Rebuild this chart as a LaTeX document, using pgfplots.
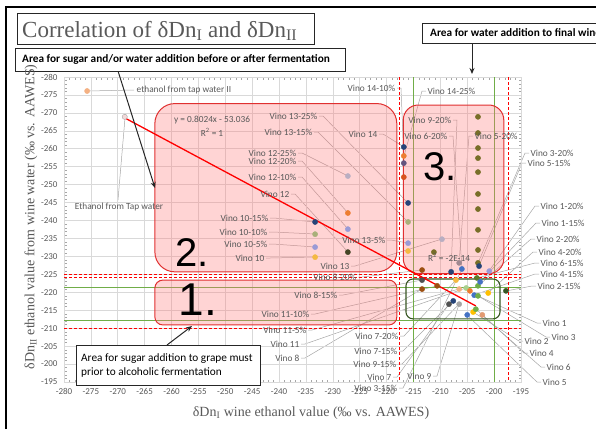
\documentclass[border=0pt]{standalone}
\usepackage{pgfplots}
\pgfplotsset{compat=1.18}
\usepackage{fontspec}
\setmainfont{Carlito}
\newfontfamily\tnr{Liberation Serif}
\newfontfamily\ari{Liberation Sans}
\usetikzlibrary{arrows.meta,backgrounds}

\definecolor{gridc}{HTML}{D9D9D9}
\definecolor{tickc}{HTML}{595959}
\definecolor{labc}{HTML}{595959}
\definecolor{ldrc}{HTML}{A6A6A6}
\definecolor{regfill}{HTML}{FF7878}
\definecolor{regred}{HTML}{E03030}
\definecolor{greenl}{HTML}{70AD47}
\definecolor{boxgreen}{HTML}{385723}
\definecolor{cNavy}{HTML}{264478}
\definecolor{cOrange}{HTML}{ED7D31}
\definecolor{cPurple}{HTML}{64557E}
\definecolor{cRedor}{HTML}{D8531E}
\definecolor{cKhaki}{HTML}{A9B07A}
\definecolor{cLav}{HTML}{9A9AD6}
\definecolor{cGold}{HTML}{F4B942}
\definecolor{cLavg}{HTML}{B9AEC2}
\definecolor{cOlive}{HTML}{786E28}
\definecolor{cDkol}{HTML}{454526}
\definecolor{cBrown}{HTML}{9C4F12}
\definecolor{cMauve}{HTML}{A08890}
\definecolor{cDkgray}{HTML}{505050}
\definecolor{cBlue}{HTML}{4472C4}
\definecolor{cGreen}{HTML}{70AD47}
\definecolor{cLtgreen}{HTML}{A9D18E}
\definecolor{cPeach}{HTML}{F4B183}
\definecolor{cYellow}{HTML}{FFC000}
\definecolor{cDkgreen}{HTML}{375623}
\definecolor{cLtgray}{HTML}{A5A5A5}
\definecolor{cSalmon}{HTML}{E29A72}
\definecolor{cOlgreen}{HTML}{5B7B2A}
\definecolor{cPale}{HTML}{F2D9D9}

\tikzset{
  lbl/.style={font=\fontsize{9.3}{10}\selectfont, text=labc, inner sep=0.5pt},
  ldr/.style={draw=ldrc, line width=0.5pt},
  abox/.style={draw=black!85, line width=1pt, fill=white},
  aarrow/.style={draw=black!85, line width=1pt, -{Stealth[length=6pt,width=5pt]}}
}
\newcommand\LE[5]{\begin{pgfonlayer}{background}\draw[ldr] (#1+1,-#2) -- (#1+5,-#2) -- (#4,-#5);\end{pgfonlayer}\node[lbl,anchor=east] at (#1,-#2) {#3};}
\newcommand\LW[5]{\begin{pgfonlayer}{background}\draw[ldr] (#1-1,-#2) -- (#1-5,-#2) -- (#4,-#5);\end{pgfonlayer}\node[lbl,anchor=west] at (#1,-#2) {#3};}

\begin{document}
\begin{tikzpicture}[x=1pt,y=1pt]
\useasboundingbox (0,0) rectangle (596,-429);
\begin{axis}[
  at={(292.5pt,-229.5pt)}, anchor=center,
  scale only axis, width=457pt, height=305pt,
  xmin=-280, xmax=-195, ymin=-280, ymax=-195, y dir=reverse,
  xtick={-280,-275,...,-195}, ytick={-280,-275,...,-195},
  minor x tick num=4, minor y tick num=4,
  grid=major, major grid style={draw=gridc, line width=0.6pt},
  axis line style={draw=gridc, line width=0.6pt},
  major tick length=0pt, minor tick length=2.5pt,
  minor tick style={draw=ldrc, line width=0.4pt},
  tick align=inside,
  /pgf/number format/assume math mode=true,
  tick label style={font=\fontsize{9}{10}\selectfont, text=tickc},
  xticklabel style={yshift=-3pt},
  yticklabel style={xshift=-3pt},
]
% green reference lines
\draw[greenl, line width=0.8pt] (-280,-221.5) -- (-195,-221.5);
\draw[greenl, line width=0.8pt] (-280,-212.3) -- (-195,-212.3);
\draw[greenl, line width=0.8pt] (-215.1,-280) -- (-215.1,-195);
\draw[greenl, line width=0.8pt] (-200.0,-280) -- (-200.0,-195);
% regions
\fill[regfill, fill opacity=0.32, rounded corners=20pt] (-263.1,-272.6) rectangle (-218.1,-225.7);
\draw[regred, line width=1pt, rounded corners=20pt] (-263.1,-272.6) rectangle (-218.1,-225.7);
\fill[regfill, fill opacity=0.32, rounded corners=15pt] (-216.9,-272.2) rectangle (-198.2,-225.2);
\draw[regred, line width=1pt, rounded corners=15pt] (-216.9,-272.2) rectangle (-198.2,-225.2);
\fill[regfill, fill opacity=0.32, rounded corners=8pt] (-263.1,-223.4) rectangle (-218.1,-210.9);
\draw[regred, line width=1pt, rounded corners=8pt] (-263.1,-223.4) rectangle (-218.1,-210.9);
\draw[boxgreen, line width=1.1pt, rounded corners=7pt] (-216.4,-223.7) rectangle (-198.9,-212.6);
% dashed limits
\draw[red, line width=0.9pt, dash pattern=on 3pt off 2pt] (-217.7,-280) -- (-217.7,-195);
\draw[red, line width=0.9pt, dash pattern=on 3pt off 2pt] (-197.4,-280) -- (-197.4,-195);
\draw[red, line width=0.8pt, dash pattern=on 3pt off 2pt] (-280,-224.9) -- (-195,-224.9);
\draw[red, line width=0.8pt, dash pattern=on 3pt off 2pt] (-280,-224.1) -- (-195,-224.1);
\draw[red, line width=0.9pt, dash pattern=on 3pt off 2pt] (-280,-210.0) -- (-195,-210.0);
% regression line
\addplot[red, line width=1.3pt, no marks] coordinates {(-268.7,-268.6) (-203.4,-216.2)};
% points
\addplot[scatter, only marks, mark=*, mark size=2.6pt,
  scatter src=explicit symbolic,
  scatter/classes={
    nv={mark=*,cNavy}, or={mark=*,cOrange}, pu={mark=*,cPurple}, ro={mark=*,cRedor},
    kh={mark=*,cKhaki}, lv={mark=*,cLav}, go={mark=*,cGold}, lg={mark=*,cLavg},
    ol={mark=*,cOlive}, dk={mark=*,cDkol}, br={mark=*,cBrown}, ma={mark=*,cMauve},
    dg={mark=*,cDkgray}, bl={mark=*,cBlue}, gr={mark=*,cGreen}, lgr={mark=*,cLtgreen},
    pe={mark=*,cPeach}, ye={mark=*,cYellow}, dgr={mark=*,cDkgreen}, lgy={mark=*,cLtgray},
    sa={mark=*,cSalmon}, og={mark=*,cOlgreen}, pa={mark=*,fill=cPale,draw=ldrc}
  }] table[meta=c] {
x y c
-275.7 -276.1 pe
-268.7 -268.9 pa
-227.2 -252.4 lg
-227.2 -242.1 or
-227.2 -237.6 lv
-227.2 -231.2 dk
-233.3 -239.6 nv
-233.3 -236.2 kh
-233.3 -232.6 lv
-233.3 -229.8 go
-216.8 -260.5 nv
-216.8 -258.0 or
-216.8 -256.0 pu
-216.8 -252.1 ro
-216.0 -244.9 nv
-216.0 -239.6 kh
-216.0 -233.7 lv
-216.0 -231.5 go
-209.7 -234.8 lg
-211.2 -231.2 ol
-203.0 -268.9 ol
-203.0 -264.4 ol
-203.0 -260.2 ol
-203.0 -257.4 ol
-203.0 -253.5 ol
-203.0 -247.4 ol
-203.0 -243.2 ol
-203.0 -237.4 ol
-203.0 -231.8 ol
-203.0 -228.2 ol
-213.4 -226.2 br
-208.0 -225.7 nv
-206.0 -226.5 bl
-206.5 -228.2 ma
-202.8 -227.3 nv
-200.9 -225.9 lv
-213.4 -223.4 dg
-207.1 -223.4 go
-203.2 -224.0 og
-203.0 -221.8 gr
-202.6 -222.9 bl
-213.4 -220.9 br
-210.6 -221.8 br
-206.5 -220.9 pe
-205.2 -221.2 lgr
-204.5 -220.4 or
-203.7 -219.2 bl
-203.0 -219.0 gr
-201.1 -219.8 ye
-197.8 -220.4 dgr
-207.6 -217.6 nv
-208.4 -216.7 dg
-206.5 -216.7 lgy
-205.0 -213.7 bl
-203.9 -214.5 ye
-203.4 -215.3 gr
-202.2 -213.7 sa
};
\end{axis}

% outer frame
\draw[black, line width=1.2pt] (6,-429) -- (6,-7) -- (600,-7);

% title box
\draw[draw=black!85, line width=1pt] (17,-13) rectangle (314,-44);
\node[anchor=base west, inner sep=0, text=labc, font=\tnr\fontsize{23}{26}\selectfont] at (22,-37) {Correlation of δDn\textsubscript{I} and δDn\textsubscript{II}};

% annotation boxes and arrows
\draw[aarrow] (118,-71) -- (155,-188);
\draw[abox] (15,-48) rectangle (345,-71);
\node[anchor=west, inner sep=0, font=\bfseries\fontsize{11.3}{13}\selectfont] at (22,-59.5) {Area for sugar and/or water addition before or after fermentation};

\draw[abox] (422,-23) rectangle (610,-43);
\node[anchor=west, inner sep=0, font=\bfseries\fontsize{11.3}{13}\selectfont] at (430,-33) {Area for water addition to final wine};
\draw[aarrow] (472,-44) -- (472,-74);

\draw[aarrow] (167,-345) -- (192,-326);
\draw[abox] (76,-345) rectangle (260,-385);
\node[anchor=west, inner sep=0, align=left, font=\fontsize{11.3}{14}\selectfont] at (81,-365) {Area for sugar addition to grape must\\prior to alcoholic fermentation};

% region numbers
\node[inner sep=0, font=\ari\fontsize{40}{40}\selectfont] at (192,-253) {2.};
\node[inner sep=0, font=\ari\fontsize{40}{40}\selectfont] at (440,-167) {3.};
\node[inner sep=0, font=\ari\fontsize{46}{46}\selectfont] at (198,-300) {1.};

% equations
\node[lbl] at (212,-120) {y = 0.8024x - 53.036};
\node[lbl] at (212,-132) {R\textsuperscript{2} = 1};
\node[lbl] at (449,-257) {R\textsuperscript{2} = -2E-14};

% tap water labels
\begin{pgfonlayer}{background}
\draw[ldr] (88,-91) -- (134,-90);
\draw[ldr] (118,-200) -- (125,-118);
\end{pgfonlayer}
\node[lbl, anchor=west] at (136,-90) {ethanol from tap water II};
\node[lbl] at (119,-207) {Ethanol from Tap water};

% Vino labels
\LE{396}{88}{Vino 14-10\%}{404}{163}
\LE{378}{134}{Vino 14}{404}{147}
\LE{318}{116}{Vino 13-25\%}{408}{203}
\LE{313}{132}{Vino 13-15\%}{408}{222}
\LE{297}{153}{Vino 12-25\%}{348}{176}
\LE{297}{161}{Vino 12-20\%}{348}{213}
\LE{297}{177}{Vino 12-10\%}{348}{229}
\LE{290}{194}{Vino 12}{348}{252}
\LE{269}{218}{Vino 10-15\%}{315}{222}
\LE{268}{232}{Vino 10-10\%}{315}{234}
\LE{268}{244}{Vino 10-5\%}{315}{247}
\LE{265}{258}{Vino 10}{315}{257}
\LE{386}{240}{Vino 13-5\%}{408}{243}
\LE{350}{266}{Vino 13}{442}{239}
\LE{357}{277}{Vino 8-20\%}{422}{270}
\LE{338}{295}{Vino 8-15\%}{422}{280}
\LE{310}{314}{Vino 11-10\%}{437}{286}
\LE{307}{330}{Vino 11-5\%}{459}{289}
\LE{300}{344}{Vino 11}{466}{288}
\LE{300}{358}{Vino 8}{422}{289}
\LE{399}{336}{Vino 7-20\%}{456}{280}
\LE{398}{351}{Vino 7-15\%}{453}{301}
\LE{397}{364}{Vino 9-15\%}{459}{304}
\LE{392}{377}{Vino 7}{449}{304}
\LE{432}{376}{Vino 9}{459}{304}
\LE{398}{388}{Vino 3-15\%}{462}{269}
\LE{452}{120}{Vino 9-20\%}{451}{272}
\LE{448}{136}{Vino 6-20\%}{462}{269}
\LW{427}{91}{Vino 14-25\%}{404}{156}
\LW{474}{136}{Vino 5-20\%}{459}{263}
\LW{530}{153}{Vino 3-20\%}{478}{263}
\LW{527}{163}{Vino 5-15\%}{479}{266}
\LW{540}{206}{Vino 1-20\%}{489}{271}
\LW{541}{223}{Vino 1-15\%}{480}{282}
\LW{536}{239}{Vino 2-20\%}{478}{286}
\LW{538}{252}{Vino 4-20\%}{488}{293}
\LW{540}{263}{Vino 6-15\%}{477}{278}
\LW{540}{274}{Vino 4-15\%}{474}{295}
\LW{537}{286}{Vino 2-15\%}{506}{291}
\LW{542}{323}{Vino 1}{478}{296}
\LW{551}{337}{Vino 3}{470}{291}
\LW{524}{341}{Vino 2}{473}{312}
\LW{529}{353}{Vino 4}{476}{309}
\LW{546}{367}{Vino 6}{482}{315}
\LW{542}{382}{Vino 5}{467}{315}

% axis titles
\node[text=labc, font=\tnr\fontsize{14}{16}\selectfont] at (311,-413) {δDn\textsubscript{I} wine ethanol value (‰ vs. AAWES)};
\node[rotate=90, text=labc, font=\tnr\fontsize{14}{16}\selectfont] at (31,-217) {δDn\textsubscript{II} ethanol value from wine water (‰ vs. AAWES)};
\end{tikzpicture}
\end{document}
